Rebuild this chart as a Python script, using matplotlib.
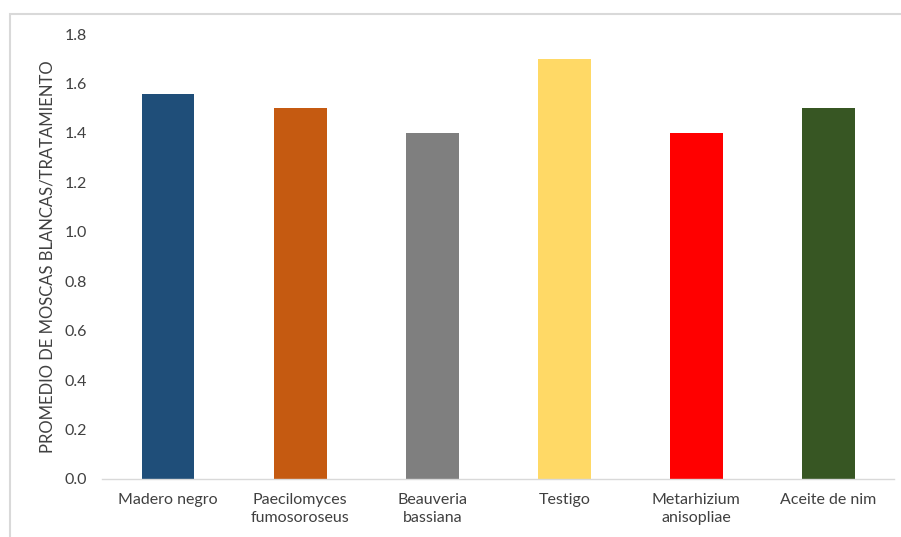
import matplotlib
matplotlib.use("Agg")
import matplotlib.pyplot as plt
from matplotlib.patches import Rectangle

categories = ["Madero negro", "Paecilomyces\nfumosoroseus", "Beauveria\nbassiana",
              "Testigo", "Metarhizium\nanisopliae", "Aceite de nim"]
values = [1.556, 1.5, 1.4, 1.7, 1.4, 1.5]
colors = ["#1F4E79", "#C55A11", "#7F7F7F", "#FFD966", "#FF0000", "#375623"]
yticks = [0.0, 0.2, 0.4, 0.6, 0.8, 1.0, 1.2, 1.4, 1.6, 1.8]
ylabel = "PROMEDIO DE MOSCAS BLANCAS/TRATAMIENTO"

plt.rcParams['font.family'] = ['Lato', 'DejaVu Sans']

W, H = 901, 537
fig = plt.figure(figsize=(W / 100, H / 100), dpi=100)
fig.patches.append(Rectangle((10 / W, -0.05), 1.2, 1 - 14 / H + 0.05,
                             transform=fig.transFigure, fill=False,
                             edgecolor="#d9d9d9", linewidth=1.5))

ax = fig.add_axes([102 / W, 1 - 479 / H, (894.5 - 102) / W, (479 - 34) / H])
x = list(range(len(categories)))
ax.bar(x, values, width=0.4, color=colors)
ax.set_xlim(-0.5, len(categories) - 0.5)
ax.set_ylim(0, 1.8)
ax.set_yticks(yticks)
ax.set_yticklabels([f"{v:.1f}" for v in yticks], fontsize=11.5, color="#404040")
ax.set_xticks(x)
ax.set_xticklabels(categories, fontsize=11.5, color="#404040", linespacing=1.35)
ax.tick_params(axis="both", length=0)
ax.tick_params(axis="y", pad=11)
ax.tick_params(axis="x", pad=10)
for s in ["top", "right", "left"]:
    ax.spines[s].set_visible(False)
ax.spines["bottom"].set_color("#d9d9d9")
ax.spines["bottom"].set_linewidth(1.0)
ax.set_ylabel(ylabel, fontsize=12, color="#404040", labelpad=6)

fig.savefig("out.png", dpi=100)
